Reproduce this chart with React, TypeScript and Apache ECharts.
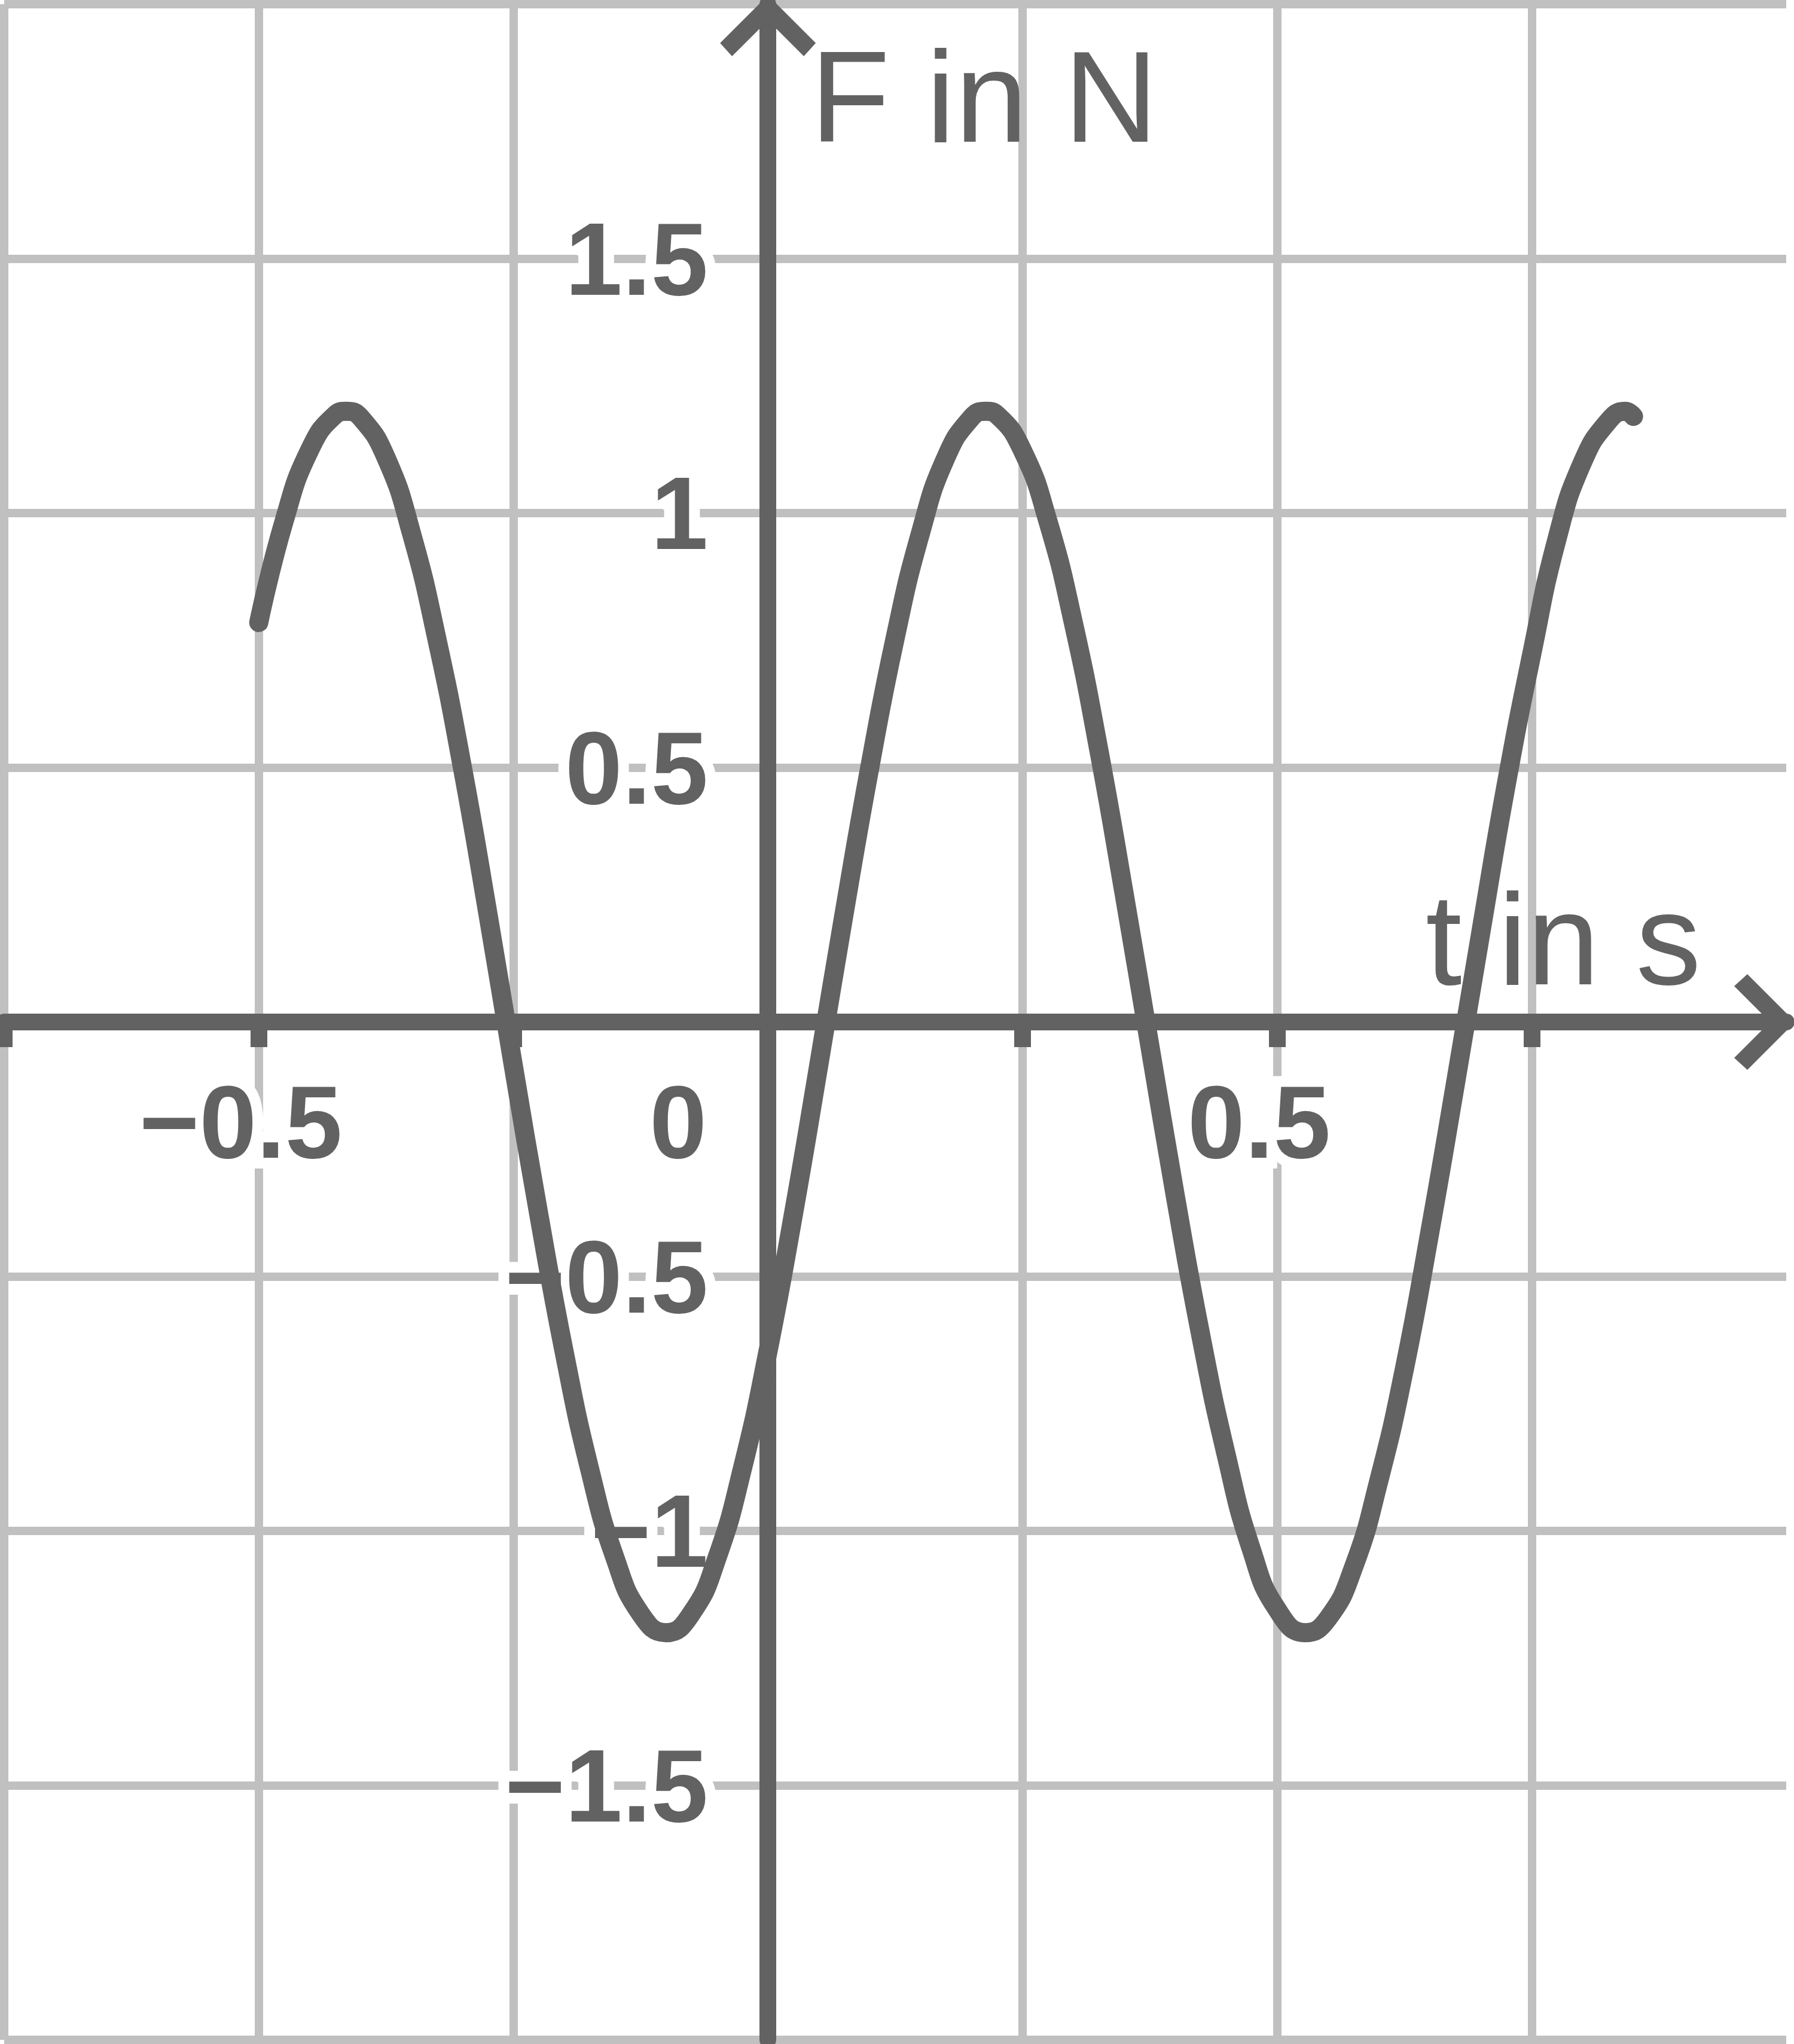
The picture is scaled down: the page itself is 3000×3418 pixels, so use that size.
import {useEffect, useRef} from 'react';
import * as echarts from 'echarts';

// time in s (every 0.025 s, plus each peak and trough)
const timeValues = [
    -0.5, -0.475, -0.45, -0.425, -0.414, -0.4, -0.375, -0.35, -0.325, -0.3, -0.275, -0.25, -0.225, -0.2,
    -0.175, -0.15, -0.125, -0.1, -0.075, -0.05, -0.025, 0, 0.025, 0.05, 0.075, 0.1, 0.125, 0.15, 0.175,
    0.2, 0.214, 0.225, 0.25, 0.275, 0.3, 0.325, 0.35, 0.375, 0.4, 0.425, 0.45, 0.475, 0.5, 0.528, 0.55,
    0.575, 0.6, 0.625, 0.65, 0.675, 0.7, 0.725, 0.75, 0.775, 0.8, 0.825, 0.842, 0.85,
];

// force in N
const forceValues = [
    0.785, 0.985, 1.124, 1.193, 1.2, 1.188, 1.109, 0.96, 0.752, 0.5, 0.213, -0.086, -0.378, -0.649,
    -0.879, -1.054, -1.163, -1.2, -1.162, -1.053, -0.877, -0.648, -0.378, -0.084, 0.215, 0.5, 0.755,
    0.962, 1.11, 1.188, 1.2, 1.193, 1.123, 0.984, 0.784, 0.534, 0.25, -0.046, -0.341, -0.615, -0.85,
    -1.038, -1.154, -1.2, -1.172, -1.072, -0.901, -0.682, -0.413, -0.123, 0.175, 0.466, 0.722, 0.95, 1.1,
    1.18, 1.2, 1.19,
];

const xTicks = [-0.75, -0.5, -0.25, 0, 0.25, 0.5, 0.75];
const xLabels = [-0.5, 0, 0.5];
const yLabels = [-1.5, -1, -0.5, 0.5, 1, 1.5];

const DARK = '#626262';
const GRID = '#c0c0c0';

const GRID_LEFT = 7;
const GRID_TOP = 7;
const GRID_W = 2980;
const GRID_H = 3404;
const X_MIN = -0.75;
const X_MAX = 1;

// open chevron, tip pointing up
const ARROW = 'path://M-12 0L12 0L80 68L60 90L0 30L-60 90L-80 68Z';

const fmt = (v: number) => (v < 0 ? '\u2212' + Math.abs(v) : String(v));

const labelFont = {
    fontSize: 172,
    fontWeight: 'bold' as const,
    fontFamily: "'Liberation Sans', Arial, sans-serif",
    color: DARK,
    textBorderColor: '#fff',
    textBorderWidth: 36,
};

const axisLine = {
    onZero: false,
    lineStyle: {color: DARK, width: 28},
    symbol: ['none', ARROW],
    symbolSize: [160, 90],
    symbolOffset: [0, -42],
};

const App = () => {
    const chartRef = useRef<HTMLDivElement>(null);

    useEffect(() => {
        const chart = echarts.init(chartRef.current!, null, {renderer: 'svg'});

        // move the axes in from the grid edges onto t = 0 and F = 0
        const yAxisShift = ((0 - X_MIN) / (X_MAX - X_MIN)) * GRID_W;
        const xAxisShift = GRID_H / 2;

        const option = {
            animation: false,
            backgroundColor: '#fff',
            grid: {left: GRID_LEFT, top: GRID_TOP, width: GRID_W, height: GRID_H, outerBoundsMode: 'none'},
            xAxis: {
                type: 'value',
                position: 'bottom',
                offset: -xAxisShift,
                min: X_MIN,
                max: X_MAX,
                interval: 0.25,
                axisLine,
                axisTick: {
                    show: true,
                    length: 42,
                    customValues: xTicks,
                    lineStyle: {color: DARK, width: 28},
                },
                axisLabel: {
                    customValues: xLabels,
                    margin: 81,
                    ...labelFont,
                    formatter: (v: number) => (v === 0 ? '{z|0}' : '{n|' + fmt(v) + '}'),
                    rich: {
                        n: {...labelFont, padding: [0, 60, 0, 0]},
                        z: {...labelFont, padding: [0, 300, 0, 0]},
                    },
                },
                splitLine: {show: true, lineStyle: {color: GRID, width: 14}},
            },
            yAxis: {
                type: 'value',
                position: 'left',
                offset: -yAxisShift,
                min: -2,
                max: 2,
                interval: 0.5,
                axisLine,
                axisTick: {show: false},
                axisLabel: {
                    customValues: yLabels,
                    margin: 100,
                    ...labelFont,
                    formatter: fmt,
                },
                splitLine: {show: true, lineStyle: {color: GRID, width: 14}},
            },
            graphic: [
                {
                    type: 'text',
                    x: 1355,
                    y: 161,
                    z: 1,
                    style: {
                        text: 'F in N',
                        fontSize: 218,
                        fontFamily: "'Liberation Sans', Arial, sans-serif",
                        fill: DARK,
                        align: 'left',
                        verticalAlign: 'middle',
                    },
                },
                {
                    type: 'text',
                    x: 2384,
                    y: 1570,
                    z: 1,
                    style: {
                        text: 't in s',
                        fontSize: 218,
                        fontFamily: "'Liberation Sans', Arial, sans-serif",
                        fill: DARK,
                        align: 'left',
                        verticalAlign: 'middle',
                    },
                },
            ],
            series: [
                {
                    type: 'line',
                    data: timeValues.map((t, i) => [t, forceValues[i]]),
                    smooth: true,
                    symbol: 'none',
                    lineStyle: {color: DARK, width: 32, cap: 'round', join: 'round'},
                },
            ],
        };

        chart.setOption(option as any);

        return () => {
            chart.dispose();
        };
    }, []);

    return (
        <div
            ref={chartRef}
            style={{position: 'absolute', left: 0, top: 0, width: '3000px', height: '3418px'}}
        />
    );
};

export default App;
